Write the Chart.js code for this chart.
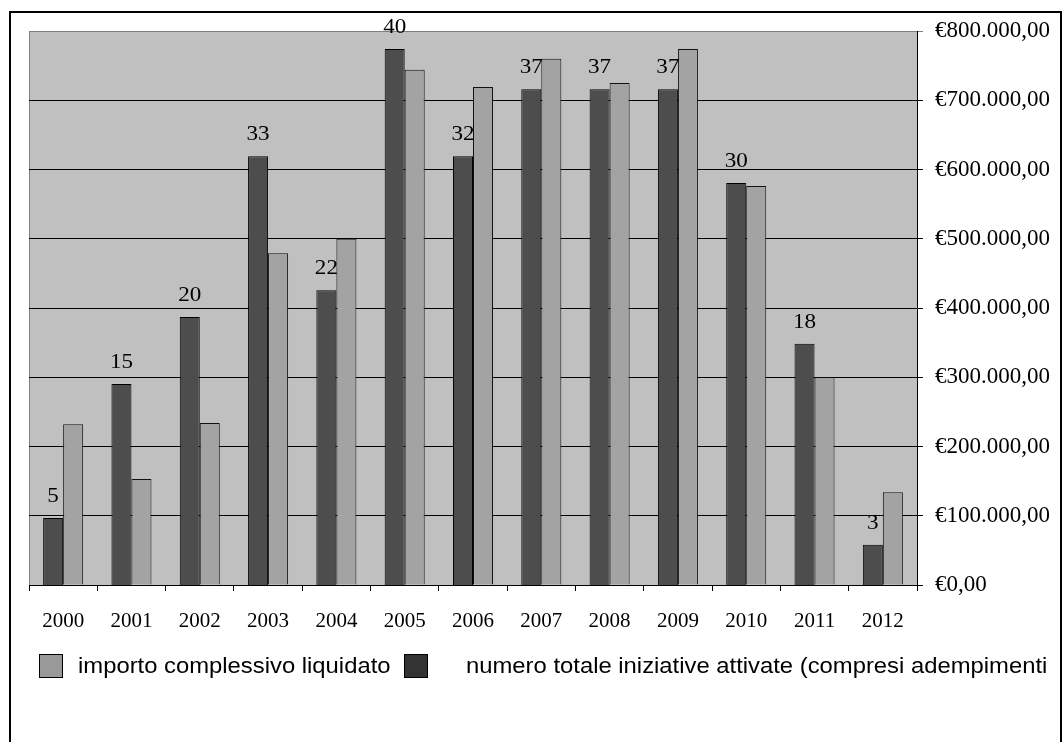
<!DOCTYPE html>
<html>
<head>
<meta charset="utf-8">
<script src="https://cdn.jsdelivr.net/npm/chart.js@4"></script>
<style>
  body { margin: 0; background: #fff; }
  #wrap { width: 1063px; height: 742px; }
</style>
</head>
<body>
<div id="wrap"><canvas id="chart" width="1063" height="742"></canvas></div>
<script>
// data
const years = ['2000', '2001', '2002', '2003', '2004', '2005', '2006', '2007', '2008', '2009', '2010', '2011', '2012'];
const iniziative = [5, 15, 20, 32, 22, 40, 32, 37, 37, 37, 30, 18, 3];
const iniziativeLabels = ['5', '15', '20', '33', '22', '40', '32', '37', '37', '37', '30', '18', '3'];
const importo = [232000, 153000, 234000, 479000, 500000, 744000, 719000, 760000, 725000, 774000, 576000, 300000, 134000];
const euroTicks = [0, 100000, 200000, 300000, 400000, 500000, 600000, 700000, 800000];

const legendItems = [
  { text: 'importo complessivo liquidato', color: '#999999', box: 39, textX: 78 },
  { text: 'numero totale iniziative attivate (compresi adempimenti', color: '#333333', box: 404, textX: 466 }
];

const SERIF = '"Liberation Serif", "Times New Roman", serif';
const SANS = '"Liberation Sans", Arial, sans-serif';

function euro(v) {
  return '€' + String(v).replace(/\B(?=(\d{3})+(?!\d))/g, '.') + ',00';
}

// the original text is a bit wider than the fonts we have, stretch it a little
function wideText(ctx, txt, x, y, sx) {
  ctx.save();
  ctx.translate(x, y);
  ctx.scale(sx, 1);
  ctx.fillText(txt, 0, 0);
  ctx.restore();
}

// grey plot background + outer frame + legend + labels over dark bars
const decor = {
  id: 'decor',
  beforeDraw(chart) {
    const { ctx, chartArea: a } = chart;
    ctx.save();
    ctx.fillStyle = '#c0c0c0';
    ctx.fillRect(a.left, a.top, a.right - a.left, a.bottom - a.top);
    ctx.strokeStyle = '#808080';
    ctx.lineWidth = 1;
    ctx.beginPath();
    ctx.moveTo(a.left + 0.5, a.bottom);
    ctx.lineTo(a.left + 0.5, a.top + 0.5);
    ctx.stroke();
    ctx.restore();
  },
  afterDraw(chart) {
    const { ctx } = chart;
    ctx.save();
    // labels on the dark bars
    ctx.font = '21px ' + SERIF;
    ctx.fillStyle = '#000';
    ctx.textAlign = 'center';
    ctx.textBaseline = 'bottom';
    chart.getDatasetMeta(0).data.forEach((bar, i) => {
      wideText(ctx, iniziativeLabels[i], bar.x, bar.y - 11, 1.1);
    });
    // legend
    ctx.font = '22px ' + SANS;
    ctx.textAlign = 'left';
    ctx.textBaseline = 'middle';
    legendItems.forEach(it => {
      ctx.fillStyle = it.color;
      ctx.fillRect(it.box, 654, 24, 24);
      ctx.strokeStyle = '#000';
      ctx.lineWidth = 1;
      ctx.strokeRect(it.box + 0.5, 654.5, 23, 23);
      ctx.fillStyle = '#000';
      wideText(ctx, it.text, it.textX, 667, 1.083);
    });
    // frame
    ctx.strokeStyle = '#000';
    ctx.lineWidth = 2;
    ctx.strokeRect(10, 12, 1051, 740);
    ctx.restore();
  }
};

new Chart(document.getElementById('chart'), {
  type: 'bar',
  data: {
    labels: years,
    datasets: [
      {
        label: 'numero totale iniziative attivate (compresi adempimenti',
        data: iniziative,
        yAxisID: 'yCount',
        backgroundColor: '#4d4d4d',
        borderColor: '#000',
        borderWidth: 1,
        borderSkipped: 'bottom'
      },
      {
        label: 'importo complessivo liquidato',
        data: importo,
        yAxisID: 'y',
        backgroundColor: '#a3a3a3',
        borderColor: '#111',
        borderWidth: 1,
        borderSkipped: 'bottom'
      }
    ]
  },
  options: {
    responsive: false,
    animation: false,
    layout: { padding: { left: 29, top: 31, right: 0, bottom: 0 } },
    datasets: { bar: { categoryPercentage: 0.586, barPercentage: 1 } },
    plugins: {
      legend: { display: false },
      tooltip: { enabled: false }
    },
    scales: {
      x: {
        grid: { display: true, drawOnChartArea: false, drawTicks: true, tickLength: 6, color: '#000', offset: true },
        border: { color: '#000', width: 1 },
        ticks: { color: '#000', font: { family: SERIF, size: 21 }, padding: 18, maxRotation: 0 },
        afterFit(scale) { scale.height = 157; }
      },
      y: {
        position: 'right',
        min: 0,
        max: 800000,
        afterBuildTicks(scale) { scale.ticks = euroTicks.map(v => ({ value: v })); },
        grid: {
          color: ctx => (ctx.tick && ctx.tick.value === 800000 ? '#808080' : '#000'),
          tickLength: 6
        },
        border: { color: '#000', width: 1 },
        ticks: {
          color: '#000',
          font: { family: SERIF, size: 23 },
          padding: 12,
          callback: v => euro(v)
        },
        afterFit(scale) { scale.width = 146; }
      },
      yCount: {
        display: false,
        position: 'left',
        min: 0,
        max: 41.34
      }
    }
  },
  plugins: [decor]
});
</script>
</body>
</html>
